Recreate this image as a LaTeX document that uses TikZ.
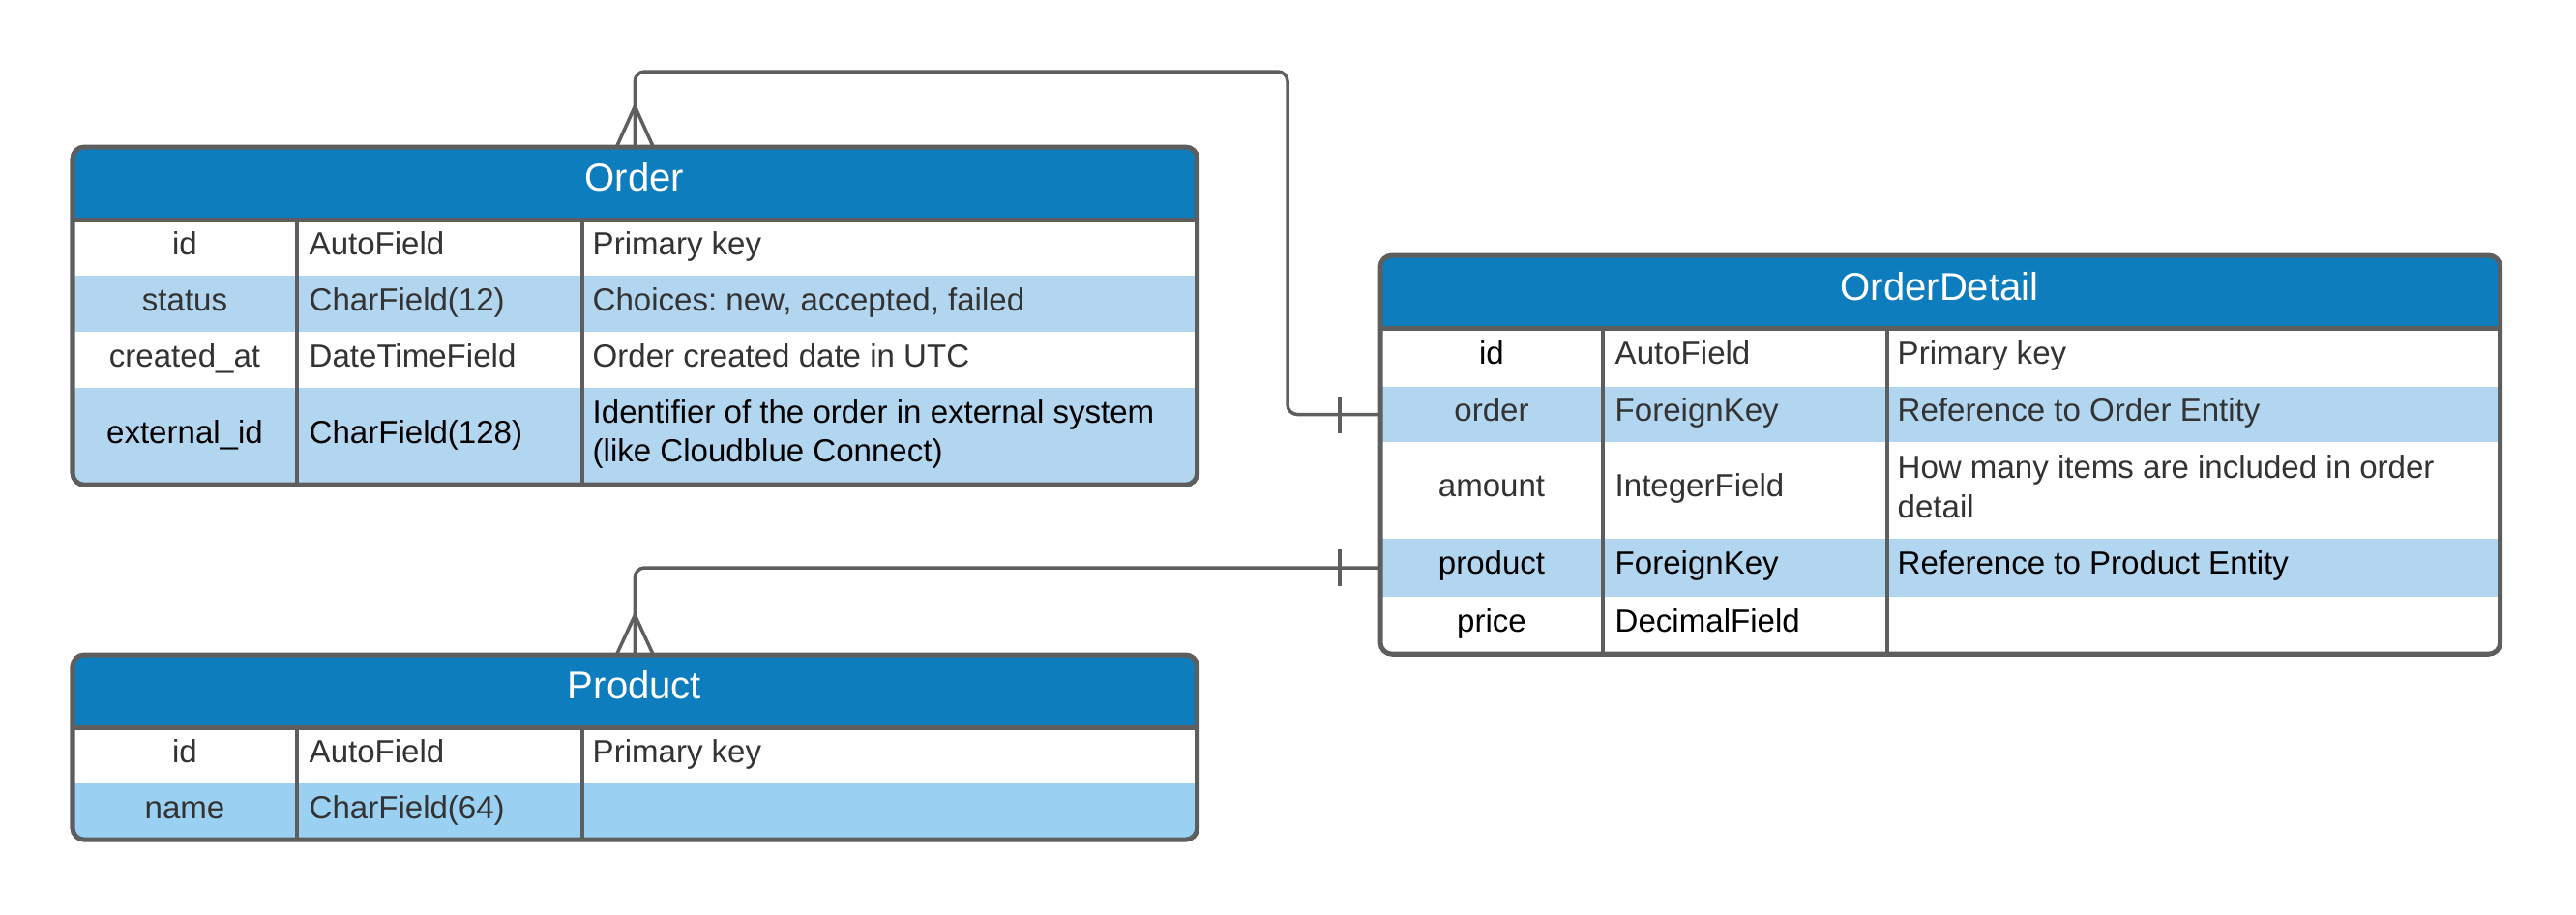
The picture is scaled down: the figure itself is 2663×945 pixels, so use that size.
\documentclass[tikz,border=0pt]{standalone}
\usepackage{fontspec}
\setmainfont{Liberation Sans}
\usetikzlibrary{calc}
\definecolor{hdr}{RGB}{13,125,189}
\definecolor{lite}{RGB}{179,214,240}
\definecolor{litetwo}{RGB}{154,209,242}
\definecolor{edge}{RGB}{94,94,94}
\definecolor{txt}{RGB}{51,51,51}
\newcommand\cellfont{\frenchspacing\fontsize{9.4}{11.5}\selectfont}
\newcommand\headfont{\fontsize{11.4}{13}\selectfont}
\begin{document}
\begin{tikzpicture}[x=0.01cm,y=-0.01cm,
 frame/.style={draw=edge, line width=0.05cm, rounded corners=0.12cm, inner sep=0pt, outer sep=0pt, anchor=north west},
 hline/.style={draw=edge, line width=0.05cm},
 vline/.style={draw=edge, line width=0.04cm},
 title/.style={inner sep=0pt, font=\headfont, text=white, anchor=base},
 fname/.style={inner sep=0pt, font=\cellfont, text=txt, anchor=base},
 ftype/.style={inner sep=0pt, font=\cellfont, text=txt, anchor=base west},
 mdesc/.style={inner sep=0pt, font=\cellfont, text=txt, anchor=west, align=left},
 dark/.style={text=black},
 conn/.style={draw=edge, line width=0.035cm, rounded corners=0.1cm},
 crow/.style={draw=edge, line width=0.035cm},
 tick/.style={draw=edge, line width=0.04cm},
]
\useasboundingbox (0,0) rectangle (2663,945);

% ---------------- Order ----------------
\begin{scope}
 \clip[rounded corners=0.12cm] (75,152) rectangle (1237,501);
 \fill[white] (75,152) rectangle (1237,501);
 \fill[hdr] (75,152) rectangle (1237,227);
 \fill[lite] (75,285) rectangle (1237,343);
 \fill[lite] (75,401) rectangle (1237,501);
\end{scope}
\draw[hline] (75,227) -- (1237,227);
\draw[vline] (307,227) -- (307,501);
\draw[vline] (602,227) -- (602,501);
\node[frame, minimum width=11.62cm, minimum height=3.49cm] (order) at (75,152) {};
\node[title] (ordertitle) at (656,197) {Order};
\node[fname] (o1n) at (191,263) {id};
\node[ftype] (o1t) at (319,263) {AutoField};
\node[ftype] (o1d) at (612,263) {Primary key};
\node[fname] (o2n) at (191,321) {status};
\node[ftype] (o2t) at (319,321) {CharField(12)};
\node[ftype] (o2d) at (612,321) {Choices: new, accepted, failed};
\node[fname] (o3n) at (191,379) {created\_at};
\node[ftype] (o3t) at (319,379) {DateTimeField};
\node[ftype] (o3d) at (612,379) {Order created date in UTC};
\node[fname,dark] (o4n) at (191,458) {external\_id};
\node[ftype,dark] (o4t) at (319,458) {CharField(128)};
\node[mdesc,dark] (o4d) at (612,449) {Identifier of the order in external system\\(like Cloudblue Connect)};

% ---------------- OrderDetail ----------------
\begin{scope}
 \clip[rounded corners=0.12cm] (1427,264) rectangle (2584,676);
 \fill[white] (1427,264) rectangle (2584,676);
 \fill[hdr] (1427,264) rectangle (2584,339);
 \fill[lite] (1427,400) rectangle (2584,457);
 \fill[lite] (1427,557) rectangle (2584,617);
\end{scope}
\draw[hline] (1427,339) -- (2584,339);
\draw[vline] (1657,339) -- (1657,676);
\draw[vline] (1951,339) -- (1951,676);
\node[frame, minimum width=11.57cm, minimum height=4.12cm] (od) at (1427,264) {};
\node[title] (odtitle) at (2005,310) {OrderDetail};
\node[fname,dark] (d1n) at (1542,376) {id};
\node[ftype] (d1t) at (1669,376) {AutoField};
\node[ftype] (d1d) at (1961,376) {Primary key};
\node[fname] (d2n) at (1542,435) {order};
\node[ftype] (d2t) at (1669,435) {ForeignKey};
\node[ftype] (d2d) at (1961,435) {Reference to Order Entity};
\node[fname] (d3n) at (1542,513) {amount};
\node[ftype] (d3t) at (1669,513) {IntegerField};
\node[mdesc] (d3d) at (1961,503) {How many items are included in order\\detail};
\node[fname,dark] (d4n) at (1542,593) {product};
\node[ftype,dark] (d4t) at (1669,593) {ForeignKey};
\node[ftype,dark] (d4d) at (1961,593) {Reference to Product Entity};
\node[fname,dark] (d5n) at (1542,653) {price};
\node[ftype,dark] (d5t) at (1669,653) {DecimalField};

% ---------------- Product ----------------
\begin{scope}
 \clip[rounded corners=0.12cm] (75,677) rectangle (1237,868);
 \fill[white] (75,677) rectangle (1237,868);
 \fill[hdr] (75,677) rectangle (1237,752);
 \fill[litetwo] (75,810) rectangle (1237,868);
\end{scope}
\draw[hline] (75,752) -- (1237,752);
\draw[vline] (307,752) -- (307,868);
\draw[vline] (602,752) -- (602,868);
\node[frame, minimum width=11.62cm, minimum height=1.91cm] (product) at (75,677) {};
\node[title] (prodtitle) at (656,722) {Product};
\node[fname] (p1n) at (191,788) {id};
\node[ftype] (p1t) at (319,788) {AutoField};
\node[ftype] (p1d) at (612,788) {Primary key};
\node[fname] (p2n) at (191,846) {name};
\node[ftype] (p2t) at (319,846) {CharField(64)};

% ---------------- connectors ----------------
\coordinate (ctop) at (1331,74);
\coordinate (odorder) at (1427,428.5);
\coordinate (odproduct) at (1427,587);
\draw[conn] (order.north) |- (ctop) |- (odorder);
\draw[conn] (product.north) |- (odproduct);
\draw[crow] ($(order.north)+(-19,0)$) -- ($(order.north)+(0,-42)$) -- ($(order.north)+(19,0)$);
\draw[crow] ($(product.north)+(-19,0)$) -- ($(product.north)+(0,-41)$) -- ($(product.north)+(19,0)$);
\draw[tick] ($(odorder)+(-42,-19)$) -- ($(odorder)+(-42,19)$);
\draw[tick] ($(odproduct)+(-42,-19)$) -- ($(odproduct)+(-42,19)$);
\end{tikzpicture}
\end{document}
